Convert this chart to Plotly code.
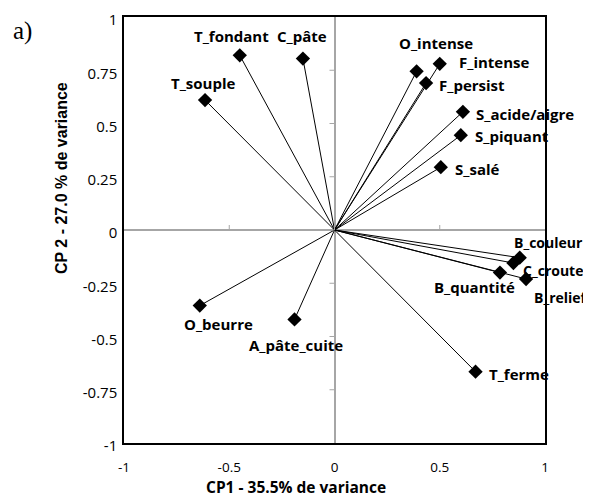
import plotly.graph_objects as go

labels = ["T_fondant", "C_pâte", "T_souple", "O_intense", "F_intense", "F_persist",
          "S_acide/aigre", "S_piquant", "S_salé", "B_couleur", "C_croute",
          "B_quantité", "B_relief", "T_ferme", "O_beurre", "A_pâte_cuite"]
cp1 = [-0.45, -0.15, -0.615, 0.39, 0.50, 0.435, 0.61, 0.60, 0.505, 0.88, 0.85, 0.786, 0.91, 0.67, -0.64, -0.19]
cp2 = [0.82, 0.805, 0.61, 0.745, 0.78, 0.69, 0.555, 0.445, 0.295, -0.13, -0.155, -0.20, -0.23, -0.665, -0.355, -0.42]

x_ticks = [-1, -0.5, 0, 0.5, 1]
y_ticks = [-1, -0.75, -0.5, -0.25, 0, 0.25, 0.5, 0.75, 1]

x_title = "CP1 - 35.5% de variance"
y_title = "CP 2 - 27.0 % de variance"

# label placement: (xanchor, xshift px, yshift px, font size)
placement = {
    "T_fondant": ("center", -8, 19, 15),
    "C_pâte": ("center", -1, 23, 15),
    "T_souple": ("center", -2, 17, 15),
    "O_intense": ("center", 19, 28, 15),
    "F_intense": ("left", 17, 2, 15),
    "F_persist": ("left", 11, -2, 15),
    "S_acide/aigre": ("left", 11, -2, 15),
    "S_piquant": ("left", 12, -1, 15),
    "S_salé": ("left", 12, -2, 15),
    "B_couleur": ("left", -8, 15, 14),
    "C_croute": ("left", 8, -7, 14),
    "B_quantité": ("right", 17, -14, 15),
    "B_relief": ("left", 6, -19, 14),
    "T_ferme": ("left", 11, -2, 15),
    "O_beurre": ("center", 19, -18, 15),
    "A_pâte_cuite": ("center", 1, -26, 15),
}

fig = go.Figure()
for lab, x, y in zip(labels, cp1, cp2):
    fig.add_trace(go.Scatter(x=[0, x], y=[0, y], mode="lines",
                             line=dict(color="black", width=1), hoverinfo="skip",
                             showlegend=False))
fig.add_trace(go.Scatter(x=cp1, y=cp2, mode="markers", text=labels,
                         marker=dict(symbol="diamond", size=11, color="black"),
                         showlegend=False))

for lab, x, y in zip(labels, cp1, cp2):
    xa, xs, ys, fs = placement[lab]
    fig.add_annotation(x=x, y=y, text="<b>%s</b>" % lab, showarrow=False,
                       xanchor=xa, yanchor="middle", xshift=xs, yshift=ys,
                       font=dict(family="Open Sans", size=fs, color="black"))

shapes = []
for t in y_ticks:
    if t in (-1, 1):
        continue
    shapes.append(dict(type="line", xref="x", yref="y", xsizemode="pixel", xanchor=0,
                       x0=-5, x1=0, y0=t, y1=t, line=dict(color="#a6a6a6", width=1)))
for t in x_ticks:
    if t in (-1, 1):
        continue
    shapes.append(dict(type="line", xref="x", yref="y", ysizemode="pixel", yanchor=0,
                       y0=0, y1=5, x0=t, x1=t, line=dict(color="#a6a6a6", width=1)))
fig.update_layout(shapes=shapes)

# panel label and axis titles (placed as in the original, off-centre)
fig.add_annotation(text="a)", xref="paper", yref="paper", x=-0.242, y=0.967,
                   xanchor="center", yanchor="middle", showarrow=False,
                   font=dict(family="Liberation Serif", size=25, color="black"))
fig.add_annotation(text="<b>%s</b>" % x_title, xref="paper", yref="paper",
                   x=0.4086, y=-0.104, xanchor="center", yanchor="middle",
                   showarrow=False, font=dict(family="Open Sans", size=15.5, color="black"))
fig.add_annotation(text="<b>%s</b>" % y_title, xref="paper", yref="paper",
                   x=-0.1496, y=0.622, xanchor="center", yanchor="middle",
                   textangle=-90, showarrow=False,
                   font=dict(family="Liberation Sans", size=16, color="black"))

fig.update_layout(
    width=583, height=489,
    margin=dict(l=116, r=46, t=9, b=54, autoexpand=False),
    paper_bgcolor="white", plot_bgcolor="white",
    font=dict(family="Open Sans", size=12, color="black"),
    xaxis=dict(range=[-1, 1], tickvals=x_ticks, ticktext=[str(v) for v in x_ticks],
               showgrid=False, zeroline=True, zerolinecolor="#a6a6a6", zerolinewidth=1.5,
               showline=True, linecolor="black", linewidth=1.5, mirror=True,
               ticks="", tickfont=dict(family="Open Sans", size=13.5), automargin=False,
               ticklabelstandoff=11, ticklabeloverflow="allow"),
    yaxis=dict(range=[-1, 1], tickvals=y_ticks, ticktext=[str(v) for v in y_ticks],
               showgrid=False, zeroline=True, zerolinecolor="#a6a6a6", zerolinewidth=1.5,
               showline=True, linecolor="black", linewidth=1.5, mirror=True,
               ticks="", tickfont=dict(family="Open Sans", size=15), ticklabelstandoff=2,
               ticklabelshift=3, automargin=False, ticklabeloverflow="allow"),
)

fig.write_html("out.html")
